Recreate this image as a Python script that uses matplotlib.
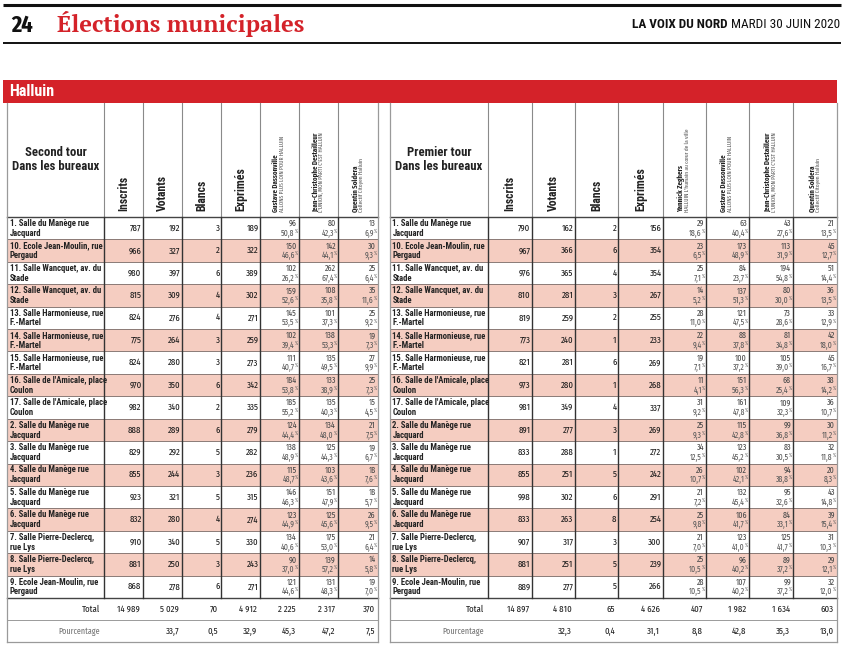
import matplotlib
matplotlib.use('Agg')
import matplotlib.pyplot as plt
from matplotlib.patches import Rectangle

# ---------------- data ----------------
bureaux = [
    ("1. Salle du Manège rue", "Jacquard"),
    ("10. Ecole Jean-Moulin, rue", "Pergaud"),
    ("11. Salle Wancquet, av. du", "Stade"),
    ("12. Salle Wancquet, av. du", "Stade"),
    ("13. Salle Harmonieuse, rue", "F.-Martel"),
    ("14. Salle Harmonieuse, rue", "F.-Martel"),
    ("15. Salle Harmonieuse, rue", "F.-Martel"),
    ("16. Salle de l'Amicale, place", "Coulon"),
    ("17. Salle de l'Amicale, place", "Coulon"),
    ("2. Salle du Manège rue", "Jacquard"),
    ("3. Salle du Manège rue", "Jacquard"),
    ("4. Salle du Manège rue", "Jacquard"),
    ("5. Salle du Manège rue", "Jacquard"),
    ("6. Salle du Manège rue", "Jacquard"),
    ("7. Salle Pierre-Declercq,", "rue Lys"),
    ("8. Salle Pierre-Declercq,", "rue Lys"),
    ("9. Ecole Jean-Moulin, rue", "Pergaud"),
]
colonnes = ["Inscrits", "Votants", "Blancs", "Exprimés"]

# Second tour
inscrits_t2 = [787, 966, 980, 815, 824, 775, 824, 970, 982, 888, 829, 855, 923, 832, 910, 881, 868]
votants_t2 = [192, 327, 397, 309, 276, 264, 280, 350, 340, 289, 292, 244, 321, 280, 340, 250, 278]
blancs_t2 = [3, 2, 6, 4, 4, 3, 3, 6, 2, 6, 5, 3, 5, 4, 5, 3, 6]
exprimes_t2 = [189, 322, 389, 302, 271, 259, 273, 342, 335, 279, 282, 236, 315, 274, 330, 243, 271]
candidats_t2 = ["Gustave Dassonville", "Jean-Christophe Destailleur", "Quentin Soldera"]
listes_t2 = ["ALLONS PLUS LOIN POUR HALLUIN", "L'UNION, MON PARTI C'EST HALLUIN", "Collectif Citoyen Halluin"]
dassonville_t2 = [96, 150, 102, 159, 145, 102, 111, 184, 185, 124, 138, 115, 146, 123, 134, 90, 121]
dassonville_t2_pct = [50.8, 46.6, 26.2, 52.6, 53.5, 39.4, 40.7, 53.8, 55.2, 44.4, 48.9, 48.7, 46.3, 44.9, 40.6, 37.0, 44.6]
destailleur_t2 = [80, 142, 262, 108, 101, 138, 135, 133, 135, 134, 125, 103, 151, 125, 175, 139, 131]
destailleur_t2_pct = [42.3, 44.1, 67.4, 35.8, 37.3, 53.3, 49.5, 38.9, 40.3, 48.0, 44.3, 43.6, 47.9, 45.6, 53.0, 57.2, 48.3]
soldera_t2 = [13, 30, 25, 35, 25, 19, 27, 25, 15, 21, 19, 18, 18, 26, 21, 14, 19]
soldera_t2_pct = [6.9, 9.3, 6.4, 11.6, 9.2, 7.3, 9.9, 7.3, 4.5, 7.5, 6.7, 7.6, 5.7, 9.5, 6.4, 5.8, 7.0]
totaux_t2 = ["14 989", "5 029", "70", "4 912", "2 225", "2 317", "370"]
pourcentages_t2 = ["", "33,7", "0,5", "32,9", "45,3", "47,2", "7,5"]

# Premier tour
inscrits_t1 = [790, 967, 976, 810, 819, 773, 821, 973, 981, 891, 833, 855, 998, 833, 907, 881, 889]
votants_t1 = [162, 366, 365, 281, 259, 240, 281, 280, 349, 277, 288, 251, 302, 263, 317, 251, 277]
blancs_t1 = [2, 6, 4, 3, 2, 1, 6, 1, 4, 3, 1, 5, 6, 8, 3, 5, 5]
exprimes_t1 = [156, 354, 354, 267, 255, 233, 269, 268, 337, 269, 272, 242, 291, 254, 300, 239, 266]
candidats_t1 = ["Yannick Zeghers", "Gustave Dassonville", "Jean-Christophe Destailleur", "Quentin Soldera"]
listes_t1 = ["HALLUIN L'humain au cœur de la ville", "ALLONS PLUS LOIN POUR HALLUIN",
             "L'UNION, MON PARTI C'EST HALLUIN", "Collectif Citoyen Halluin"]
zeghers_t1 = [29, 23, 25, 14, 28, 22, 19, 11, 31, 25, 34, 26, 21, 25, 21, 25, 28]
zeghers_t1_pct = [18.6, 6.5, 7.1, 5.2, 11.0, 9.4, 7.1, 4.1, 9.2, 9.3, 12.5, 10.7, 7.2, 9.8, 7.0, 10.5, 10.5]
dassonville_t1 = [63, 173, 84, 137, 121, 88, 100, 151, 161, 115, 123, 102, 132, 106, 123, 96, 107]
dassonville_t1_pct = [40.4, 48.9, 23.7, 51.3, 47.5, 37.8, 37.2, 56.3, 47.8, 42.8, 45.2, 42.1, 45.4, 41.7, 41.0, 40.2, 40.2]
destailleur_t1 = [43, 113, 194, 80, 73, 81, 105, 68, 109, 99, 83, 94, 95, 84, 125, 89, 99]
destailleur_t1_pct = [27.6, 31.9, 54.8, 30.0, 28.6, 34.8, 39.0, 25.4, 32.3, 36.8, 30.5, 38.8, 32.6, 33.1, 41.7, 37.2, 37.2]
soldera_t1 = [21, 45, 51, 36, 33, 42, 45, 38, 36, 30, 32, 20, 43, 39, 31, 29, 32]
soldera_t1_pct = [13.5, 12.7, 14.4, 13.5, 12.9, 18.0, 16.7, 14.2, 10.7, 11.2, 11.8, 8.3, 14.8, 15.4, 10.3, 12.1, 12.0]
totaux_t1 = ["14 897", "4 810", "65", "4 626", "407", "1 982", "1 634", "603"]
pourcentages_t1 = ["", "32,3", "0,4", "31,1", "8,8", "42,8", "35,3", "13,0"]

# ---------------- style / layout ----------------
COND = ['Fira Sans Extra Condensed', 'DejaVu Sans']
ROBC = ['Roboto Condensed', 'DejaVu Sans']
SERIF = ['PT Serif', 'DejaVu Serif']
RED = '#d42229'
PINK = '#f5cdc1'

W, H = 844, 651
LEFT_EDGES = [7, 104, 143, 182, 221, 260, 299, 338, 378]
RIGHT_EDGES = [390, 488, 532, 575, 618, 663, 706, 749, 793, 837]
BANNER_TOP, HEADER_TOP, HEADER_BOTTOM = 80, 103, 217
DATA_BOTTOM, TOTAL_BOTTOM, TABLE_BOTTOM = 598, 620, 642

fig = plt.figure(figsize=(W / 100, H / 100), dpi=100)
ax = fig.add_axes([0, 0, 1, 1])
ax.set_xlim(0, W)
ax.set_ylim(H, 0)
ax.axis('off')

# ---------------- page header ----------------
ax.plot([3, 841], [5, 5], color='#111111', lw=2.2, solid_capstyle='butt')
ax.plot([3, 841], [43, 43], color='#111111', lw=1.4, solid_capstyle='butt')
ax.text(11, 25, "24", family=COND, fontweight='bold', fontsize=17.5, color='#111111', ha='left', va='center')
ax.text(57, 24, "Élections municipales", family=SERIF, fontweight='bold', fontsize=17,
        color=RED, ha='left', va='center')
t_date = ax.text(840, 25, "MARDI 30 JUIN 2020", family=ROBC, fontsize=9.5, color='#111111',
                 ha='right', va='center')
ax.annotate("LA VOIX DU NORD ", xy=(0, 0.5), xycoords=t_date, ha='right', va='center',
            family=ROBC, fontweight='bold', fontsize=9.5, color='#111111')

# ---------------- banner ----------------
ax.add_patch(Rectangle((3, BANNER_TOP), 834, HEADER_TOP - BANNER_TOP, facecolor=RED, edgecolor='none'))
ax.text(9, (BANNER_TOP + HEADER_TOP) / 2 + 0.5, "Halluin", family=ROBC, fontweight='bold', fontsize=11.5,
        color='white', ha='left', va='center')


def fmt_pct(v):
    return f"{v:.1f}".replace('.', ',')


def draw_table(edges, titre, cand_names, cand_lists, general_cols, cand_counts, cand_pcts, totaux, pcts):
    n = len(bureaux)
    rh = (DATA_BOTTOM - HEADER_BOTTOM) / n
    x0, x1 = edges[0], edges[-1]
    # row backgrounds
    for i in range(n):
        top = HEADER_BOTTOM + i * rh
        if i % 2 == 1:
            ax.add_patch(Rectangle((x0, top), x1 - x0, rh, facecolor=PINK, edgecolor='none', zorder=0))
    # horizontal rules
    for i in range(1, n):
        y = HEADER_BOTTOM + i * rh
        ax.plot([x0, x1], [y, y], color='#8a7a76', lw=0.7, zorder=1)
    ax.plot([x0, x1], [HEADER_BOTTOM, HEADER_BOTTOM], color='#444444', lw=1.0, zorder=2)
    ax.plot([x0, x1], [DATA_BOTTOM, DATA_BOTTOM], color='#444444', lw=1.0, zorder=2)
    ax.plot([x0, x1], [TOTAL_BOTTOM, TOTAL_BOTTOM], color='#9a9a9a', lw=0.7, zorder=2)
    ax.plot([x0, x1], [TABLE_BOTTOM, TABLE_BOTTOM], color='#9a9a9a', lw=0.9, zorder=2)
    # vertical rules
    for j, x in enumerate(edges):
        if j in (0, len(edges) - 1):
            ax.plot([x, x], [HEADER_TOP, TABLE_BOTTOM], color='#9a9a9a', lw=0.9, zorder=2)
        else:
            ax.plot([x, x], [HEADER_TOP, HEADER_BOTTOM], color='#8a8a8a', lw=0.8, zorder=2)
            ax.plot([x, x], [HEADER_BOTTOM, DATA_BOTTOM], color='#333333', lw=1.0, zorder=2)

    # header texts
    cx = (edges[0] + edges[1]) / 2
    ax.text(cx, 153, titre[0], family=ROBC, fontweight='bold', fontsize=9.2, color='#222222',
            ha='center', va='center')
    ax.text(cx, 167, titre[1], family=ROBC, fontweight='bold', fontsize=9.2, color='#222222',
            ha='center', va='center')
    for j, lab in enumerate(colonnes):
        c = (edges[1 + j] + edges[2 + j]) / 2
        ax.text(c, 211, lab, family=ROBC, fontweight='bold', fontsize=8.5, color='#222222',
                rotation=90, ha='center', va='bottom')
    for k, (nm, ls) in enumerate(zip(cand_names, cand_lists)):
        c = (edges[5 + k] + edges[6 + k]) / 2
        ax.text(c - 3.5, 212, nm, family=COND, fontweight='bold', fontsize=5.3, color='#222222',
                rotation=90, ha='center', va='bottom')
        ax.text(c + 3.2, 212, ls, family=COND, fontsize=4.3, color='#555555',
                rotation=90, ha='center', va='bottom')

    # rows
    for i, (l1, l2) in enumerate(bureaux):
        top = HEADER_BOTTOM + i * rh
        ax.text(x0 + 2.5, top + 6.3, l1, family=ROBC, fontweight='bold', fontsize=6.2, color='#222222',
                ha='left', va='center')
        ax.text(x0 + 2.5, top + 16.3, l2, family=ROBC, fontweight='bold', fontsize=6.2, color='#222222',
                ha='left', va='center')
        for j, col in enumerate(general_cols):
            ax.text(edges[2 + j] - 1.5, top + rh / 2, str(col[i]), family=COND, fontsize=6.8,
                    color='#1a1a1a', ha='right', va='center')
        for k, (cnt, pc) in enumerate(zip(cand_counts, cand_pcts)):
            re = edges[6 + k]
            ax.text(re - 2, top + 6.5, str(cnt[i]), family=COND, fontsize=6.3,
                    color='#4a4a4a', ha='right', va='center')
            ax.text(re - 4.2, top + 16.3, fmt_pct(pc[i]), family=COND, fontsize=6.1,
                    color='#5a5a5a', ha='right', va='center')
            ax.text(re - 1.2, top + 14.2, "%", family=COND, fontsize=3.4,
                    color='#5a5a5a', ha='right', va='center')

    # totals
    ty = (DATA_BOTTOM + TOTAL_BOTTOM) / 2
    py = (TOTAL_BOTTOM + TABLE_BOTTOM) / 2
    ax.text(edges[1] - 4, ty, "Total", family=COND, fontsize=6.8, color='#222222', ha='right', va='center')
    ax.text(edges[1] - 4, py, "Pourcentage", family=COND, fontsize=6.3, color='#777777',
            ha='right', va='center')
    for j, (tv, pv) in enumerate(zip(totaux, pcts)):
        re = edges[2 + j]
        ax.text(re - 3, ty, tv, family=COND, fontsize=6.9, color='#222222', ha='right', va='center')
        if pv:
            ax.text(re - 3, py, pv, family=COND, fontsize=6.9, color='#222222', ha='right', va='center')


draw_table(LEFT_EDGES, ("Second tour", "Dans les bureaux"), candidats_t2, listes_t2,
           [inscrits_t2, votants_t2, blancs_t2, exprimes_t2],
           [dassonville_t2, destailleur_t2, soldera_t2],
           [dassonville_t2_pct, destailleur_t2_pct, soldera_t2_pct],
           totaux_t2, pourcentages_t2)

draw_table(RIGHT_EDGES, ("Premier tour", "Dans les bureaux"), candidats_t1, listes_t1,
           [inscrits_t1, votants_t1, blancs_t1, exprimes_t1],
           [zeghers_t1, dassonville_t1, destailleur_t1, soldera_t1],
           [zeghers_t1_pct, dassonville_t1_pct, destailleur_t1_pct, soldera_t1_pct],
           totaux_t1, pourcentages_t1)

fig.savefig('out.png', dpi=100)
